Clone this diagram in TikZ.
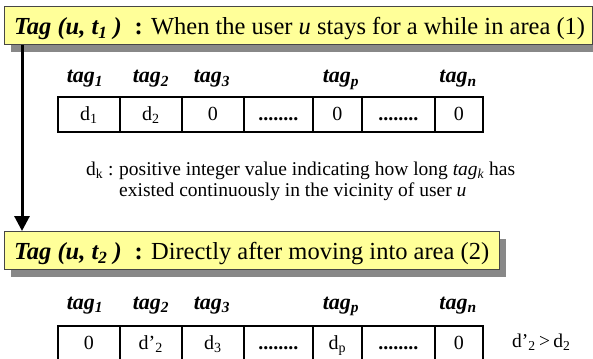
\documentclass[tikz,border=0pt]{standalone}
\usepackage{fontspec}
\setmainfont{Liberation Serif}
\usetikzlibrary{arrows.meta,shadows}
\definecolor{noteyellow}{RGB}{255,255,153}
\definecolor{shadowgray}{RGB}{136,136,136}
\definecolor{boxline}{RGB}{70,70,70}
\newcommand{\celldots}{\textbf{........}}
\begin{document}
\begin{tikzpicture}[x=1pt,y=-1pt,
  titlebox/.style={draw=boxline, line width=0.8pt, fill=noteyellow,
    anchor=north west, minimum height=38pt, inner sep=0pt,
    drop shadow={shadow xshift=7pt, shadow yshift=-8pt, fill=shadowgray, opacity=1}},
  titletext/.style={anchor=base west, inner sep=0pt, font=\fontsize{24.5}{28}\selectfont},
  cell/.style={draw, line width=1.6pt, anchor=north west, minimum height=35pt,
    inner sep=0pt, text height=12pt, text depth=0pt, font=\fontsize{20}{24}\selectfont},
  taglabel/.style={anchor=base, inner sep=0pt, font=\fontsize{22}{26}\selectfont\bfseries\itshape},
  notetext/.style={anchor=base west, inner sep=0pt, font=\fontsize{19.5}{23}\selectfont},
  flow/.style={line width=3pt, -{Triangle[width=15pt,length=15pt]}}]
\clip (0,0) rectangle (593,358);
\useasboundingbox (0,0) rectangle (593,358);

% state at time t1
\node[titlebox, minimum width=588pt] (title1) at (4,6) {};
\node[titletext] (title1text) at ([xshift=10pt,yshift=-9pt]title1.west)
  {{\bfseries\itshape Tag (u, t\textsubscript{1} )}\hspace{13pt}{\bfseries :} When the user \textit{u} stays for a while in area (1)};

\node[taglabel] (l11) at (85,83) {tag\textsubscript{1}};
\node[taglabel] (l12) at (151,83) {tag\textsubscript{2}};
\node[taglabel] (l13) at (212,83) {tag\textsubscript{3}};
\node[taglabel] (l1p) at (341,83) {tag\textsubscript{p}};
\node[taglabel] (l1n) at (458,83) {tag\textsubscript{n}};

\node[cell, minimum width=62pt] (a1) at (57,96)  {d\textsubscript{1}};
\node[cell, minimum width=62pt] (a2) at (119,96) {d\textsubscript{2}};
\node[cell, minimum width=62pt] (a3) at (181,96) {0};
\node[cell, minimum width=69pt] (a4) at (243,96) {\celldots};
\node[cell, minimum width=49pt] (a5) at (312,96) {0};
\node[cell, minimum width=73pt] (a6) at (361,96) {\celldots};
\node[cell, minimum width=48pt] (a7) at (434,96) {0};

% meaning of d_k
\node[notetext] (notekey) at (86,175) {d\textsubscript{k} :};
\node[notetext] (noteA) at (119,175) {positive integer value indicating how long \textit{tag\textsubscript{k}} has};
\node[notetext] (noteB) at (119,196) {existed continuously in the vicinity of user \textit{u}};

% state at time t2
\node[titlebox, minimum width=495pt] (title2) at (4,231) {};
\node[titletext] (title2text) at ([xshift=10pt,yshift=-9.5pt]title2.west)
  {{\bfseries\itshape Tag (u, t\textsubscript{2} )}\hspace{13pt}{\bfseries :} Directly after moving into area (2)};

\node[taglabel] (l21) at (85,309) {tag\textsubscript{1}};
\node[taglabel] (l22) at (151,309) {tag\textsubscript{2}};
\node[taglabel] (l23) at (212,309) {tag\textsubscript{3}};
\node[taglabel] (l2p) at (341,309) {tag\textsubscript{p}};
\node[taglabel] (l2n) at (458,309) {tag\textsubscript{n}};

\node[cell, minimum width=62pt] (b1) at (57,325)  {0};
\node[cell, minimum width=62pt] (b2) at (119,325) {d’\textsubscript{2}};
\node[cell, minimum width=62pt] (b3) at (181,325) {d\textsubscript{3}};
\node[cell, minimum width=69pt] (b4) at (243,325) {\celldots};
\node[cell, minimum width=49pt] (b5) at (312,325) {d\textsubscript{p}};
\node[cell, minimum width=73pt] (b6) at (361,325) {\celldots};
\node[cell, minimum width=48pt] (b7) at (434,325) {0};

\node[notetext] (cmp) at (512,347) {d’\textsubscript{2}\,>\,d\textsubscript{2}};

% transition between the two states
\draw[flow] ([xshift=18pt]title1.south west) -- ([xshift=18pt]title2.north west);
\end{tikzpicture}
\end{document}
